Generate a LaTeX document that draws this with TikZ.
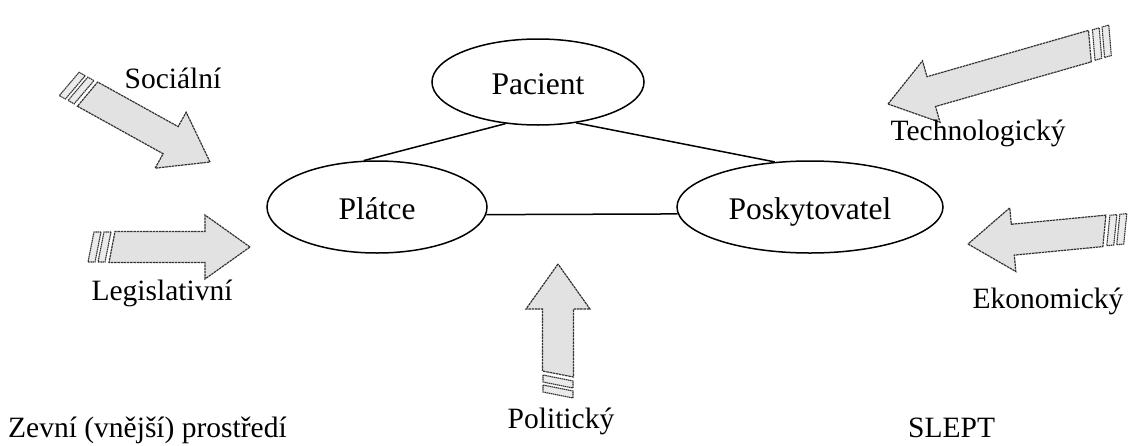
\documentclass[tikz,border=0pt]{standalone}
\usepackage{fontspec}
\setmainfont{Liberation Serif}
\usetikzlibrary{shapes.geometric}
\definecolor{arrfill}{HTML}{E2E2E2}
\definecolor{arrline}{HTML}{333333}
\tikzset{
  ell/.style={ellipse, draw, line width=1.5pt, inner sep=0pt, text height=24pt, text depth=0pt, font=\fontsize{31.5}{36}\selectfont},
  lbl/.style={inner sep=0pt, font=\fontsize{29.5}{34}\selectfont},
  arrbody/.style={fill=arrfill, draw=arrline, line width=1.2pt, dash pattern=on 2.5pt off 0.7pt, line join=miter},
  grip/.style={fill=arrfill!70, draw=arrline, line width=1.1pt, dash pattern=on 1.5pt off 0.6pt},
  link/.style={line width=1.5pt},
}
% #1,#2 tip position, #3 rotation (visual, counter-clockwise), #4 shaft length
\newcommand{\envarrow}[4]{%
  \begin{scope}[shift={(#1,#2)}, rotate=#3]
    \path[arrbody] (0,0) -- (-45,-32) -- (-45,-15.5) -- (-45-#4+3,-15.5) -- (-45-#4-3,15.5) -- (-45,15.5) -- (-45,32) -- cycle;
    \path[grip] (-45-#4-1,-15) -- (-45-#4-8,-15) -- (-45-#4-14,15) -- (-45-#4-7,15) -- cycle;
    \path[grip] (-45-#4-11,-15) -- (-45-#4-18,-15) -- (-45-#4-24,15) -- (-45-#4-17,15) -- cycle;
  \end{scope}}
\begin{document}
\begin{tikzpicture}[x=1pt,y=-1pt]
\useasboundingbox (0,0) rectangle (1133,445);

% ellipses
\node[ell, minimum width=212pt, minimum height=86pt] (pac) at (538,82) {Pacient};
\node[ell, minimum width=220pt, minimum height=92pt] (pla) at (377,207) {Plátce};
\node[ell, minimum width=266pt, minimum height=92pt] (pos) at (810,207) {Poskytovatel};

\draw[link] (pac.232) -- (pla.106);
\draw[link] (pac.313.5) -- (pos.128);
\draw[link] (pla.-4.8) -- (pos.183.9);

% environment arrows
\envarrow{210}{162}{-29}{95}
\envarrow{250}{247}{0}{93}
\envarrow{558}{264}{90}{65}
\envarrow{968}{244}{185.5}{92}
\envarrow{888}{104}{196}{165}

% labels
\node[lbl, anchor=base] (soc) at (173,88) {Sociální};
\node[lbl, anchor=base] (tec) at (978,140) {Technologický};
\node[lbl, anchor=base] (leg) at (162,300) {Legislativní};
\node[lbl, anchor=base] (eko) at (1048,308) {Ekonomický};
\node[lbl, anchor=base] (pol) at (561,428) {Politický};
\node[lbl, anchor=base west] (zev) at (8,437) {Zevní (vnější) prostředí};
\node[lbl, anchor=base west] (slept) at (908,437) {SLEPT};
\end{tikzpicture}
\end{document}
